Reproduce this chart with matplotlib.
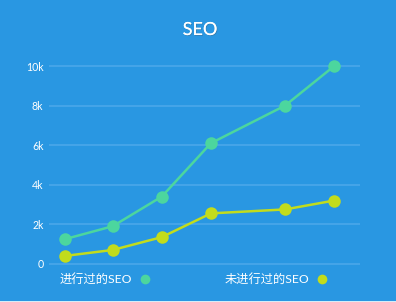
import matplotlib
matplotlib.use("Agg")
import matplotlib.pyplot as plt
import matplotlib.patheffects as pe
from matplotlib.lines import Line2D
from matplotlib.patches import Rectangle
import numpy as np

plt.rcParams['font.family'] = ['Lato', 'Noto Sans CJK SC', 'DejaVu Sans']

# Data
title = 'SEO'
dates = np.array(['2017-01-01', '2017-03-01', '2017-05-01',
                  '2017-07-01', '2017-10-01', '2017-12-01'], dtype='datetime64[D]')
series_labels = ['进行过的SEO', '未进行过的SEO']
seo_done = [1250, 1900, 3400, 6100, 8000, 10000]
seo_none = [400, 700, 1350, 2550, 2750, 3200]
ytick_values = [0, 2000, 4000, 6000, 8000, 10000]
ytick_labels = ['0', '2k', '4k', '6k', '8k', '10k']

BG = '#2997E2'
GRID = '#4AA7EA'
GREEN = '#4CD69E'
YELLOW = '#C2DC1C'
WHITE = '#FFFFFF'

fig = plt.figure(figsize=(3.96, 3.02), dpi=100, facecolor=BG)
ax = fig.add_axes([49 / 396, 0.1199, 311 / 396, 0.668])
ax.set_facecolor(BG)

for s in ax.spines.values():
    s.set_visible(False)

ax.set_ylim(-100, 10100)
ax.set_xlim(np.datetime64('2016-12-12'), np.datetime64('2018-01-02'))
ax.set_yticks(ytick_values)
ax.set_yticklabels(ytick_labels)
ax.set_xticks([])
ax.tick_params(axis='y', length=0, pad=4, labelsize=7.6, labelcolor=WHITE)
ax.grid(axis='y', color=GRID, linewidth=1.2)
ax.set_axisbelow(True)

ax.plot(dates, seo_done, color=GREEN, lw=1.8, marker='o', ms=9,
        markeredgewidth=0, clip_on=False, zorder=3)
ax.plot(dates, seo_none, color=YELLOW, lw=1.8, marker='o', ms=9,
        markeredgewidth=0, clip_on=False, zorder=3)

fig.text(200 / 396, 1 - 30 / 302, title, ha='center', va='center',
         fontsize=13, color=WHITE,
         path_effects=[pe.withSimplePatchShadow(offset=(0.6, -0.6), alpha=0.3),
                       pe.Normal()])

# Legend: label followed by a dot
leg_y = 1 - 279 / 302
for label, color, tx, mx in [(series_labels[0], GREEN, 60, 144.5),
                             (series_labels[1], YELLOW, 225, 321.5)]:
    fig.text(tx / 396, leg_y, label, ha='left', va='center',
             fontsize=8.8, color=WHITE)
    fig.add_artist(Line2D([mx / 396], [leg_y], marker='o', ms=7,
                          color=color, markeredgewidth=0,
                          transform=fig.transFigure))

fig.add_artist(Rectangle((0, 0), 1, 1.5 / 302, transform=fig.transFigure,
                         color='#D5ECF8', lw=0))

fig.savefig('out.png', dpi=100, facecolor=BG)
